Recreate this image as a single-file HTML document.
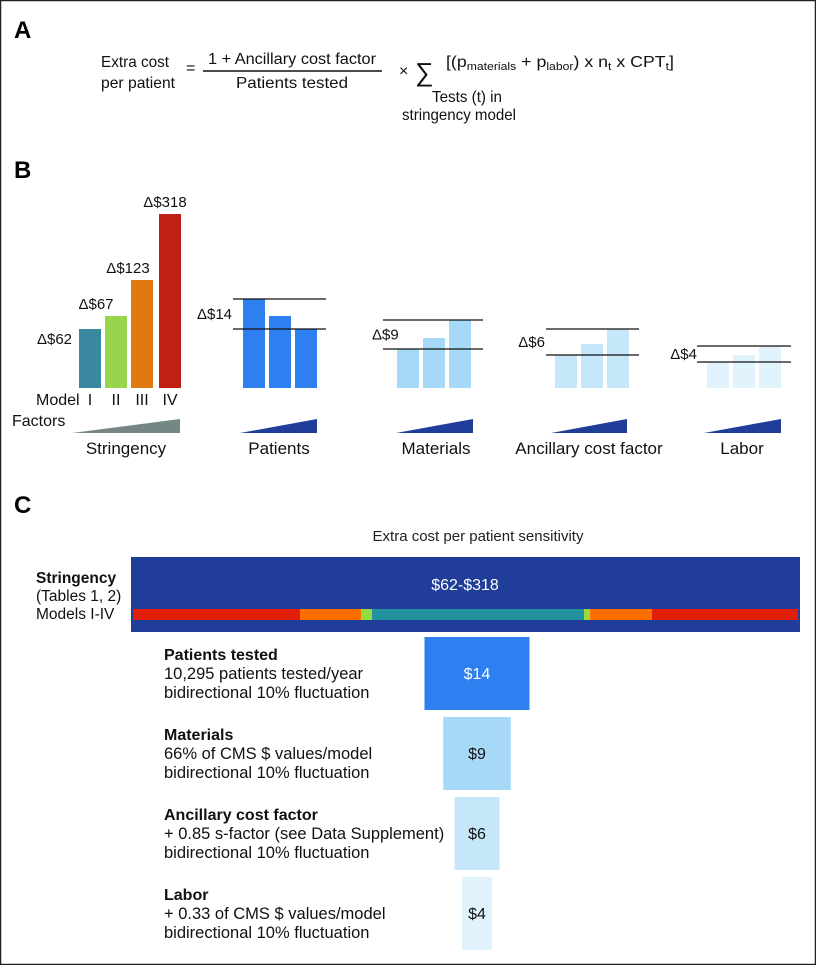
<!DOCTYPE html>
<html><head><meta charset="utf-8"><style>
html,body{margin:0;padding:0;background:#fff}
svg{display:block;font-family:"Liberation Sans",sans-serif}
</style></head><body>
<svg id="fig" width="816" height="965" viewBox="0 0 816 965">
<rect x="0.5" y="0.5" width="815" height="964" fill="#fff" stroke="#222" stroke-width="1.5"/>
<g>
<text x="14" y="38" font-size="24" font-weight="bold">A</text>
<g font-size="16" fill="#111">
<text x="101" y="67" textLength="68" lengthAdjust="spacingAndGlyphs">Extra cost</text>
<text x="101" y="88" textLength="74" lengthAdjust="spacingAndGlyphs">per patient</text>
<text x="186" y="73">=</text>
<text x="208" y="64" textLength="168" lengthAdjust="spacingAndGlyphs">1 + Ancillary cost factor</text>
<line x1="203" y1="71" x2="382" y2="71" stroke="#111" stroke-width="1.4"/>
<text x="236" y="88" textLength="112" lengthAdjust="spacingAndGlyphs">Patients tested</text>
<text x="399" y="76">×</text>
<text x="415" y="81" font-size="26">∑</text>
<text x="446" y="67" textLength="228" lengthAdjust="spacingAndGlyphs">[(p<tspan font-size="11" dy="3">materials</tspan><tspan dy="-3"> + p</tspan><tspan font-size="11" dy="3">labor</tspan><tspan dy="-3">) x n</tspan><tspan font-size="11" dy="3">t</tspan><tspan dy="-3"> x CPT</tspan><tspan font-size="11" dy="3">t</tspan><tspan dy="-3">]</tspan></text>
<text x="432" y="102" textLength="70" lengthAdjust="spacingAndGlyphs">Tests (t) in</text>
<text x="402" y="120" textLength="114" lengthAdjust="spacingAndGlyphs">stringency model</text>
</g>
</g>
<g id="panelB">
<text x="14" y="178" font-size="24" font-weight="bold">B</text>
</g>
<g id="panelC">
<text x="14" y="513" font-size="24" font-weight="bold">C</text>
<text x="478" y="541" font-size="15" text-anchor="middle" fill="#222">Extra cost per patient sensitivity</text>
</g>
</svg>
<script>
// Panel B data: relative cost index per bar (low -> high)
const factorNames = ["Stringency","Patients","Materials","Ancillary cost factor","Labor"];
const deltaLabels = ["Δ$318","Δ$14","Δ$9","Δ$6","Δ$4"];
const stringencyModels = ["I","II","III","IV"];
const stringencyDeltas = ["Δ$62","Δ$67","Δ$123","Δ$318"];
const stringencyValues = [59,72,108,174];
const patientsValues = [89,72,59];
const materialsValues = [39,50,68];
const ancillaryValues = [33,44,59];
const laborValues = [26,33,42];
// Panel C data: tornado sensitivity ranges ($)
const tornadoLabels = ["Patients tested","Materials","Ancillary cost factor","Labor"];
const tornadoValues = [14,9,6,4];
const stringencyRange = [62,318];

const NS="http://www.w3.org/2000/svg";
function mk(tag,attrs,parent,txt){const e=document.createElementNS(NS,tag);for(const k in attrs)e.setAttribute(k,attrs[k]);if(txt!==undefined)e.textContent=txt;parent.appendChild(e);return e;}
const B=document.getElementById('panelB'), C=document.getElementById('panelC');
const baseY=388;
const yB=v=>baseY-v;
const sColors=["#3a87a0","#95d44b","#e07a10","#bf2015"];
const sX=[79,105,131,159];
const sLabelShift=[0,-20,-14,-5];
stringencyValues.forEach((v,i)=>{
  const r=mk('rect',{x:sX[i],y:yB(v),width:22,height:v,fill:sColors[i]},B);
  
  
  const lx=i===0?sX[i]-7:sX[i]+11+sLabelShift[i], anchor=i===0?'end':'middle';
  const t=mk('text',{x:lx,y:i===0?yB(v)+15:yB(v)-7,'font-size':15,'text-anchor':anchor,fill:'#111'},B,stringencyDeltas[i]);
  
  
  const m=mk('text',{x:sX[i]+11,y:405,'font-size':16,'text-anchor':'middle',fill:'#111'},B,stringencyModels[i]);
  
  
});
{const t=mk('text',{x:36,y:405,'font-size':16,fill:'#111'},B,"Model");


const f=mk('text',{x:12,y:426,'font-size':16,fill:'#111'},B,"Factors");

}
const groups=[
 {vals:patientsValues,x0:243,col:"#2e7ff0",lx:[233,326],dl:232},
 {vals:materialsValues,x0:397,col:"#a6d9f7",lx:[383,483],dl:372},
 {vals:ancillaryValues,x0:555,col:"#c6e6f9",lx:[546,639],dl:545},
 {vals:laborValues,x0:707,col:"#e0f2fc",lx:[697,791],dl:697}
];
groups.forEach((g,gi)=>{
  g.vals.forEach((v,i)=>{
    const r=mk('rect',{x:g.x0+i*26,y:yB(v),width:22,height:v,fill:g.col},B);
    
    
  });
  const hi=Math.max(...g.vals), lo=Math.min(...g.vals);
  [hi,lo].forEach(v=>{
    const l=mk('line',{x1:g.lx[0],x2:g.lx[1],y1:yB(v),y2:yB(v),stroke:'#111','stroke-width':1.2},B);
    
    
  });
  const t=mk('text',{x:g.dl,y:(yB(hi)+yB(lo))/2+5,'font-size':15,'text-anchor':gi===1?'start':'end',fill:'#111'},B,deltaLabels[gi+1]);
  
  
});
const triX=[[72,180],[240,317],[396,473],[551,627],[704,781]];
const nameCX=[126,279,436,589,742];
factorNames.forEach((n,i)=>{
  const [a,b]=triX[i];
  const p=mk('polygon',{points:`${a},433 ${b},419 ${b},433`,fill:i===0?'#748784':'#1f3d99'},B);
  
  
  const t=mk('text',{x:nameCX[i],y:454,'font-size':17,'text-anchor':'middle',fill:'#111'},B,n);
  
  
});
{const r=mk('rect',{x:131,y:557,width:669,height:75,fill:'#1f3d99'},C);


const t=mk('text',{x:465,y:590,'font-size':16,'text-anchor':'middle',fill:'#fff'},C,"$"+stringencyRange[0]+"-$"+stringencyRange[1]);


const segs=[[133,300,'#e21e08'],[300,361,'#ff6e00'],[361,372,'#93dc3f'],[372,584,'#21929e'],[584,590,'#93dc3f'],[590,652,'#ff6e00'],[652,798,'#e21e08']];
segs.forEach(s=>{const q=mk('rect',{x:s[0],y:609,width:s[1]-s[0],height:11,fill:s[2]},C);

});
[["Stringency",583,'bold'],["(Tables 1, 2)",601,'normal'],["Models I-IV",619,'normal']].forEach(a=>{
 const t=mk('text',{x:36,y:a[1],'font-size':15.5,'font-weight':a[2],fill:'#111'},C,a[0]);
 
 });}
const xC=v=>v*7.5;
const tCol=["#2e7ff0","#a6d9f7","#c6e6f9","#e0f2fc"];
const tTop=[637,717,797,877];
const tDesc=[["10,295 patients tested/year","bidirectional 10% fluctuation"],["66% of CMS $ values/model","bidirectional 10% fluctuation"],["+ 0.85 s-factor (see Data Supplement)","bidirectional 10% fluctuation"],["+ 0.33 of CMS $ values/model","bidirectional 10% fluctuation"]];
tornadoValues.forEach((v,i)=>{
  const w=xC(v), cx=477;
  const r=mk('rect',{x:cx-w/2,y:tTop[i],width:w,height:73,fill:tCol[i]},C);
  
  
  const t=mk('text',{x:cx,y:tTop[i]+42,'font-size':16,'text-anchor':'middle',fill:i===0?'#fff':'#111'},C,"$"+v);
  
  
  const h=mk('text',{x:164,y:tTop[i]+23,'font-size':16,'font-weight':'bold',fill:'#111'},C,tornadoLabels[i]);
  
  
  tDesc[i].forEach((d,j)=>{
    const e=mk('text',{x:164,y:tTop[i]+42+j*19,'font-size':16.5,fill:'#111'},C,d);
    
    
  });
});
</script>
</body></html>
